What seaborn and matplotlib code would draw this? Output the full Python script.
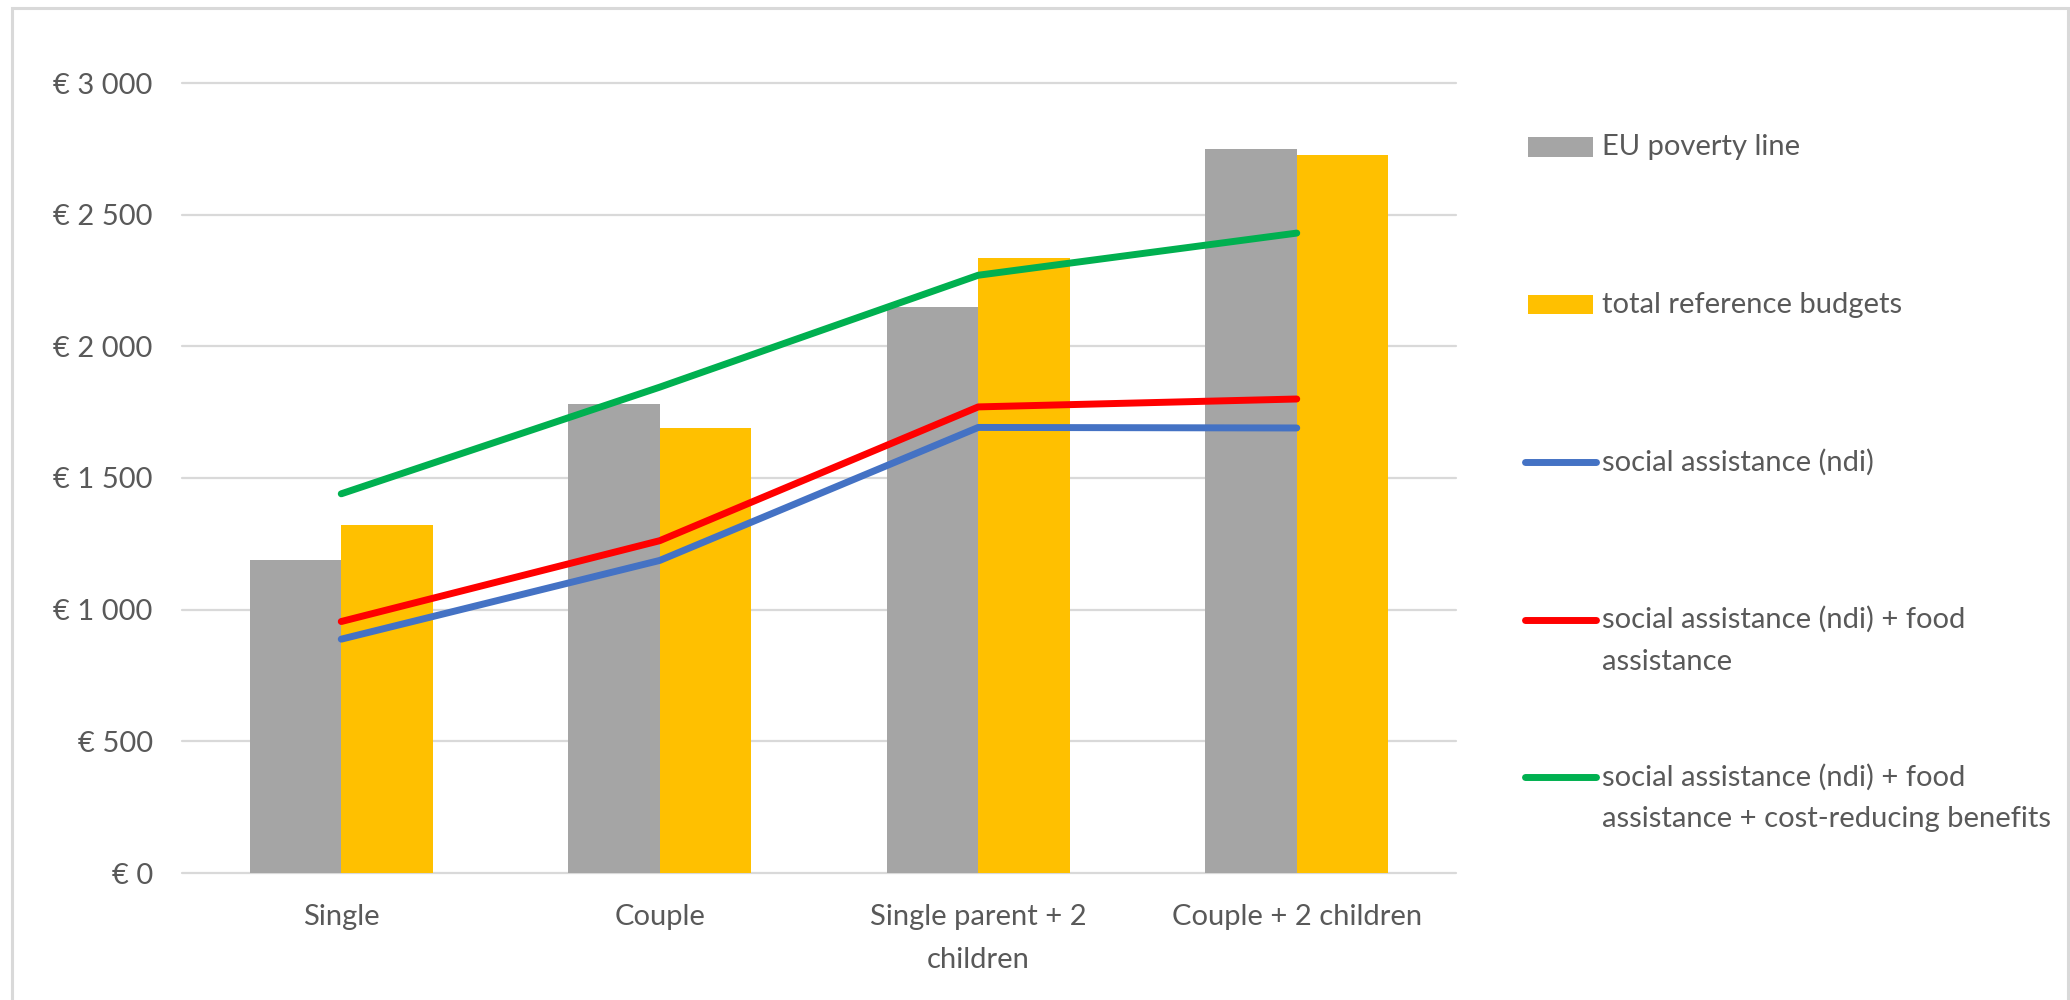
import matplotlib
matplotlib.use("Agg")
import matplotlib.pyplot as plt
from matplotlib.lines import Line2D
from matplotlib.patches import Rectangle
import numpy as np
import pandas as pd
import seaborn as sns

# Household types on the x axis
households = ["Single", "Couple", "Single parent + 2 children", "Couple + 2 children"]
household_labels = ["Single", "Couple", "Single parent + 2\nchildren", "Couple + 2 children"]

# Monthly amounts in euro
eu_poverty_line = [1190, 1780, 2150, 2750]
total_reference_budgets = [1320, 1690, 2335, 2725]
social_assistance = [888, 1187, 1692, 1690]
social_assistance_food = [955, 1262, 1770, 1800]
social_assistance_food_benefits = [1440, 1845, 2270, 2430]

bar_series = ["EU poverty line", "total reference budgets"]
line_series = [
    "social assistance (ndi)",
    "social assistance (ndi) + food\nassistance",
    "social assistance (ndi) + food\nassistance + cost-reducing benefits",
]

y_ticks = [0, 500, 1000, 1500, 2000, 2500, 3000]
y_tick_labels = ["€ 0", "€ 500", "€ 1 000", "€ 1 500", "€ 2 000", "€ 2 500", "€ 3 000"]

bar_colors = ["#A5A5A5", "#FFC000"]
line_colors = ["#4472C4", "#FF0000", "#00B050"]
text_color = "#595959"
grid_color = "#D9D9D9"

bars_df = pd.DataFrame({
    "household": households * 2,
    "series": [bar_series[0]] * 4 + [bar_series[1]] * 4,
    "amount": eu_poverty_line + total_reference_budgets,
})
lines_df = pd.DataFrame({
    "pos": list(range(len(households))) * 3,
    "series": [line_series[0]] * 4 + [line_series[1]] * 4 + [line_series[2]] * 4,
    "amount": social_assistance + social_assistance_food + social_assistance_food_benefits,
})

sns.set_theme(style="white")
plt.rcParams["font.family"] = ["Lato", "DejaVu Sans"]
FS = 21

W, H = 2070, 1000
fig = plt.figure(figsize=(W / 100, H / 100), dpi=100)
fig.patch.set_facecolor("white")
ax_l, ax_r, ax_t, ax_b = 182, 1456, 83, 873
ax = fig.add_axes([ax_l / W, 1 - ax_b / H, (ax_r - ax_l) / W, (ax_b - ax_t) / H])

sns.barplot(data=bars_df, x="household", y="amount", hue="series", order=households,
            hue_order=bar_series, palette=bar_colors, saturation=1, width=0.574, gap=0,
            linewidth=0, legend=False, ax=ax, zorder=2)
sns.lineplot(data=lines_df, x="pos", y="amount", hue="series", hue_order=line_series,
             palette=line_colors, linewidth=5.0, sort=False, legend=False, ax=ax, zorder=3)
for ln in ax.lines:
    ln.set_solid_capstyle("round")
    ln.set_solid_joinstyle("round")

ax.set_xlim(-0.5, len(households) - 0.5)
ax.set_ylim(0, 3000)
ax.set_yticks(y_ticks)
ax.set_yticklabels(y_tick_labels)
ax.set_xticks(range(len(households)))
ax.set_xticklabels(household_labels)
ax.set_xlabel("")
ax.set_ylabel("")
for s in ax.spines.values():
    s.set_visible(False)
ax.set_axisbelow(True)
ax.grid(axis="y", color=grid_color, linewidth=1.6)
ax.grid(axis="x", visible=False)
for gl in ax.get_ygridlines():
    gl.set_clip_on(False)
ax.tick_params(axis="y", length=0, pad=21, labelsize=FS, labelcolor=text_color)
ax.tick_params(axis="x", length=0, pad=22, labelsize=FS, labelcolor=text_color)
plt.setp(ax.get_xticklabels(), linespacing=1.85)

# Legend on the right side, one slot per series
slot0, slot_step, line_gap = 147, 157.5, 42
handles = [("bar", bar_colors[0], bar_series[0]),
           ("bar", bar_colors[1], bar_series[1]),
           ("line", line_colors[0], line_series[0]),
           ("line", line_colors[1], line_series[1]),
           ("line", line_colors[2], line_series[2])]
for i, (kind, color, label) in enumerate(handles):
    yc = slot0 + i * slot_step
    if kind == "bar":
        fig.add_artist(Rectangle((1528 / W, 1 - (yc + 9.5) / H), 65 / W, 19 / H,
                                 transform=fig.transFigure, facecolor=color, edgecolor="none"))
    else:
        fig.add_artist(Line2D([1525 / W, 1596 / W], [1 - yc / H, 1 - yc / H],
                              transform=fig.transFigure, color=color, linewidth=5.0,
                              solid_capstyle="round"))
    for k, part in enumerate(label.split("\n")):
        fig.text(1602 / W, 1 - (yc + k * line_gap) / H, part, fontsize=FS,
                 color=text_color, ha="left", va="center")

# Thin chart frame
fig.add_artist(Rectangle((12 / W, -0.05), (2068 - 12) / W, 1.05 - 8 / H,
                         transform=fig.transFigure, facecolor="none",
                         edgecolor=grid_color, linewidth=2.2))

fig.savefig("out.png", dpi=100, facecolor="white")
